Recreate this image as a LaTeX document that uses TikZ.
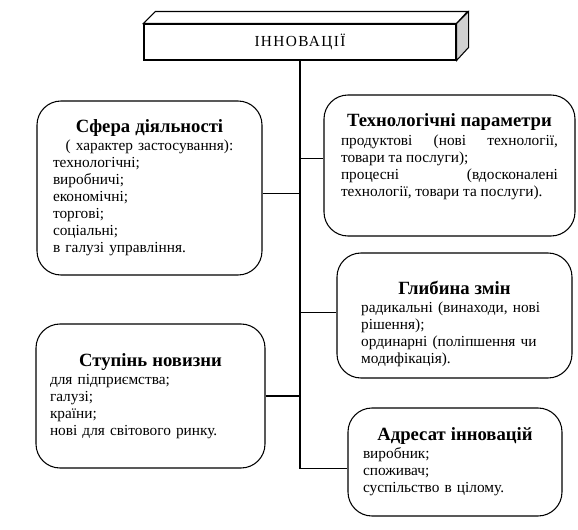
\documentclass[tikz,border=0pt]{standalone}
\usepackage{fontspec}
\setmainfont{Liberation Serif}
\setlength{\parindent}{0pt}
\newcommand{\headfont}{\fontsize{14}{16}\selectfont\bfseries}
\newcommand{\boxhead}[1]{\centerline{\headfont #1}\vspace{1pt}}

\tikzset{
  descr/.style={draw, line width=.8pt, rounded corners=18pt, inner sep=0pt, align=left, font=\fontsize{11.5}{12.75}\selectfont},
  link/.style={line width=.8pt}
}

\begin{document}
\begin{tikzpicture}[x=0.75pt, y=-0.75pt]
    \useasboundingbox (0,0) rectangle (578,529);
    % main box
    \node[draw, line width=.8pt, minimum width=234pt, minimum height=27pt, inner sep=0pt, font=\fontsize{11.5}{12}\selectfont\addfontfeatures{LetterSpace=9}] (innov) at (300,42) {ІННОВАЦІЇ};
    \draw[line width=.8pt] (innov.north west) -- ++(12,-12) -- ++(312,0) -- (innov.north east) -- cycle;
    \draw[line width=.8pt, fill=gray!37] (innov.north east) -- ++(12,-12) -- ++(0,36) -- (innov.south east) -- cycle;

    \node[descr, text width=144.75pt, minimum width=168.75pt, minimum height=130.5pt] (sfera) at (149.5,188) {%
        \boxhead{Сфера діяльності}
        \centerline{( характер застосування):}
        технологічні;\\
        виробничі;\\
        економічні;\\
        торгові;\\
        соціальні;\\
        в галузі управління.};
    \node[descr, align=justify, text width=162.75pt, minimum width=188.25pt, minimum height=105.75pt] (techn) at (449.5,165.5) {%
        \boxhead{Технологічні параметри}
        продуктові (нові технології,\linebreak товари та послуги);\\
        процесні (вдосконалені\linebreak технології, товари та послуги).\par
        \vspace{3pt}\hbox{}};
    \node[descr, text width=140pt, minimum width=176.25pt, minimum height=93.75pt] (depth) at (454.5,315.5) {%
        \vspace*{10pt}
        \boxhead{Глибина змін}
        радикальні (винаходи, нові\\
        рішення);\\
        ординарні (поліпшення чи\\
        модифікація).};
    \node[descr, text width=150.75pt, minimum width=171.75pt, minimum height=108pt] (novelty) at (150.5,396) {%
        \boxhead{Ступінь новизни}
        для підприємства;\\
        галузі;\\
        країни;\\
        нові для світового ринку.};
    \node[descr, text width=138pt, minimum width=160.5pt, minimum height=81pt] (adresat) at (455,462) {%
        \boxhead{Адресат інновацій}
        виробник;\\
        споживач;\\
        суспільство в цілому.};

    % connectors
    \coordinate (trunk) at ([yshift=-5pt]adresat.west -| innov.south);
    \draw[link] (innov.south) -- (trunk) -- ([yshift=-5pt]adresat.west);
    \draw[link] ([yshift=-4pt]sfera.east) -- ([yshift=-4pt]sfera.east -| trunk);
    \draw[link] ([yshift=5pt]techn.west) -- ([yshift=5pt]techn.west -| trunk);
    \draw[link] ([yshift=2.5pt]depth.west) -- ([yshift=2.5pt]depth.west -| trunk);
    \draw[link] (novelty.east) -- (novelty.east -| trunk);
\end{tikzpicture}
\end{document}
